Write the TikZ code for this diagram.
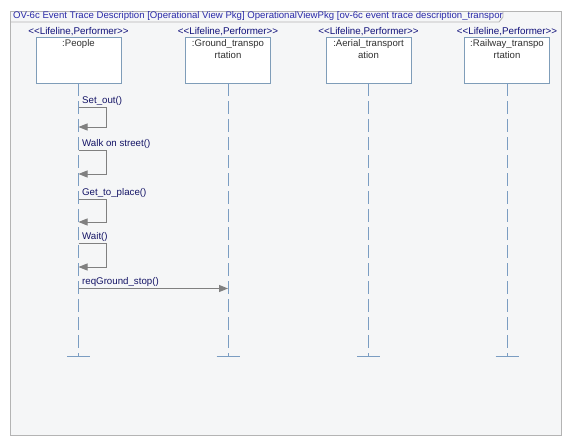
\documentclass[tikz,border=0pt]{standalone}
\usepackage{fontspec}
\setmainfont{Liberation Sans}
\usetikzlibrary{arrows.meta}
\definecolor{framebg}{HTML}{F5F6F7}
\definecolor{frameln}{HTML}{B4B4B4}
\definecolor{lifeln}{HTML}{7B9DC2}
\definecolor{boxln}{HTML}{7F9DB9}
\definecolor{titlec}{HTML}{2A2AA8}
\definecolor{stereoc}{HTML}{10107A}
\definecolor{msgc}{HTML}{141466}
\definecolor{arrc}{HTML}{808080}
\definecolor{boxtxt}{HTML}{303030}
\tikzset{
  lifebox/.style={draw=boxln, fill=white, minimum width=85pt, minimum height=46pt, anchor=north, inner sep=0pt},
  boxlabel/.style={font=\fontsize{9.6}{12}\selectfont, text=boxtxt, align=center, anchor=north, inner sep=0pt},
  stereo/.style={font=\fontsize{9.8}{11}\selectfont, text=stereoc, inner sep=0pt},
  lifeline/.style={draw=lifeln, line width=0.9pt, dash pattern=on 13pt off 5pt},
  endbar/.style={draw=lifeln, line width=0.9pt},
  msgline/.style={draw=arrc, line width=0.9pt, -{Triangle[length=9pt,width=7pt]}},
  msglabel/.style={font=\fontsize{9.7}{11}\selectfont, text=msgc, anchor=south west, inner sep=0pt},
}
\begin{document}
\begin{tikzpicture}[x=1pt,y=-1pt]
\useasboundingbox (0,0) rectangle (569,443);
% frame
\draw[draw=frameln, fill=framebg, line width=0.8pt] (10,11) rectangle (561,435);
\draw[draw=frameln, line width=0.8pt] (10,22) -- (499,22) -- (503,17) -- (503,11);
\node[font=\fontsize{9.6}{11}\selectfont, text=titlec, anchor=west, inner sep=0pt] (title) at (13,16.5)
  {OV-6c Event Trace Description [Operational View Pkg] OperationalViewPkg [ov-6c event trace description\_transpor};
% lifelines
\foreach \n/\x/\lab in {p/78.5/{:People}, g/228/{:Ground\_transpo\\rtation}, a/368.5/{:Aerial\_transport\\ation}, r/507/{:Railway\_transpo\\rtation}}{
  \node[stereo] (st\n) at (\x,31.5) {<{}<Lifeline,Performer>{}>};
  \node[lifebox] (box\n) at (\x,37) {};
  \node[boxlabel] (lab\n) at (\x,39.5) {\lab};
  \coordinate (end\n) at (\x,356);
  \draw[lifeline] (box\n.south) -- (end\n);
  \draw[endbar] ([xshift=-11.5pt]end\n) -- ([xshift=11.5pt]end\n);
}
% self messages
\foreach \i/\t/\b/\lab in {1/107.5/127/{Set\_out()}, 2/150.5/174/{Walk on street()}, 3/199/222/{Get\_to\_place()}, 4/243.5/267/{Wait()}}{
  \coordinate (s\i) at (78.5,\t);
  \coordinate (e\i) at (78.5,\b);
  \draw[msgline] (s\i) -- ++(27.5,0) |- (e\i);
  \node[msglabel] (m\i) at (82,\t-1.5) {\lab};
}
% message to ground
\coordinate (s5) at (78.5,288.5);
\coordinate (e5) at (228,288.5);
\draw[msgline] (s5) -- (e5);
\node[msglabel] (m5) at (82,287) {reqGround\_stop()};
\end{tikzpicture}
\end{document}
